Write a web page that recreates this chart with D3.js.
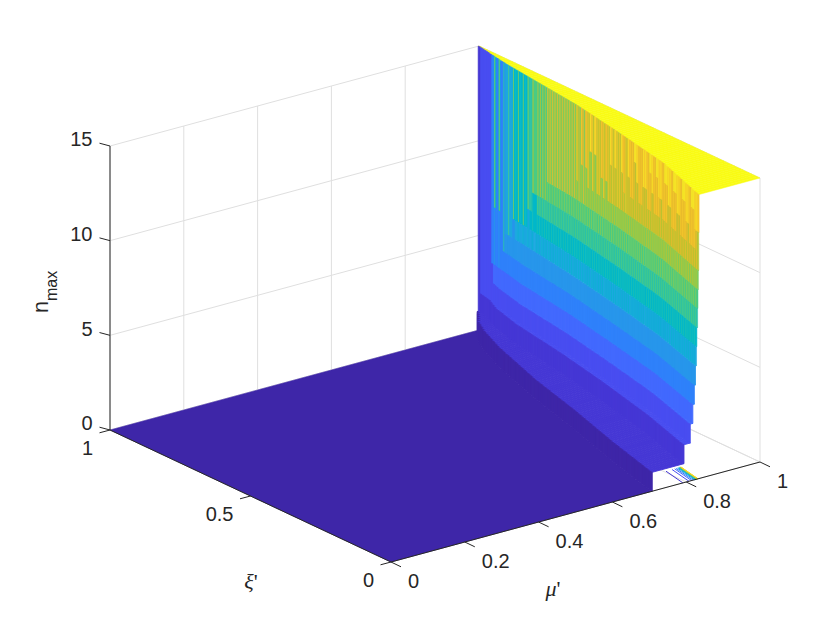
<!DOCTYPE html>
<html>
<head>
<meta charset="utf-8">
<script src="https://cdn.jsdelivr.net/npm/d3@7/dist/d3.min.js"></script>
<style>
html,body{margin:0;padding:0;background:#fff}
text{font-family:"Liberation Sans",Arial,sans-serif;fill:#262626}
</style>
</head>
<body>
<svg id="c" width="840" height="630"></svg>
<script>
// ----- data -----
const muTicks = [0, 0.2, 0.4, 0.6, 0.8, 1];
const muTickLabels = ["0", "0.2", "0.4", "0.6", "0.8", "1"];
const xiTicks = [0, 0.5, 1];
const xiTickLabels = ["0", "0.5", "1"];
const zTicks = [0, 5, 10, 15];
const zTickLabels = ["0", "5", "10", "15"];
const xiKnots = [0, 0.2, 0.4, 0.6, 0.8, 0.9, 0.95, 1];
// mu' at which n_max steps up to level k, at each xi' knot
const step01 = [.705, .750, .800, .845, .900, .935, .958, .995];
const step02 = [.791, .841, .881, .916, .945, .968, .988, .998];
const step03 = [.8075, .858, .895, .929, .955, .976, .990, .998];
const step04 = [.8145, .865, .901, .935, .961, .980, .990, .998];
const step05 = [.8185, .869, .905, .939, .965, .9825, .990, .998];
const step06 = [.822, .872, .909, .942, .970, .9825, .990, .998];
const step07 = [.8245, .875, .912, .945, .9715, .9825, .990, .998];
const step08 = [.826, .877, .914, .947, .9722, .9827, .990, .998];
const step09 = [.8275, .879, .9165, .949, .9725, .9827, .990, .998];
const step10 = [.8285, .881, .9185, .951, .9727, .9827, .990, .998];
const step11 = [.8295, .883, .9205, .9524, .9727, .983, .990, .998];
const step12 = [.8303, .8865, .9215, .9526, .973, .983, .990, .998];
const step13 = [.831, .8872, .9217, .9528, .973, .983, .990, .998];
const step14 = [.8315, .8876, .9219, .953, .973, .983, .990, .998];
const step15 = [.832, .888, .922, .953, .973, .983, .990, .998];
const levelSteps = [step01, step02, step03, step04, step05, step06, step07, step08,
                    step09, step10, step11, step12, step13, step14, step15];
const levelColors = ["#3E26A8", "#4537D5", "#484DF0", "#4269FE", "#2F81FA", "#2796EB", "#1CA9DF", "#01B8CA",
                     "#2CC3A7", "#4ACB84", "#81CC59", "#B9C431", "#E6BB2D", "#F5C72B", "#F5E326", "#F9FB15"];
const gridColumns = 100;
const muGridStep = 0.001;

// ----- oblique projection of the MATLAB box -----
const xFromMu = d3.scaleLinear().domain([0, 1]).range([0, 369]);
const xFromXi = d3.scaleLinear().domain([0, 1]).range([0, -281]);
const yFromMu = d3.scaleLinear().domain([0, 1]).range([0, -100]);
const yFromXi = d3.scaleLinear().domain([0, 1]).range([0, -132]);
const yFromZ = d3.scaleLinear().domain([0, 15]).range([0, -284]);
const P = (mu, xi, z) => [391 + xFromMu(mu) + xFromXi(xi), 562 + yFromMu(mu) + yFromXi(xi) + yFromZ(z)];
const line = d3.line();
const svg = d3.select("#c");

const boundary = levelSteps.map(s => d3.scaleLinear().domain(xiKnots).range(s));
const snap = m => Math.min(1, Math.ceil(m / muGridStep - 1e-9) * muGridStep);

// ----- grid -----
const gridG = svg.append("g").attr("fill", "none").attr("stroke", "#dfdfdf").attr("stroke-width", 1);
const seg = (a, b) => gridG.append("path").attr("d", line([a, b]));
zTicks.forEach(z => { seg(P(0, 1, z), P(1, 1, z)); seg(P(1, 1, z), P(1, 0, z)); });
muTicks.forEach(m => { seg(P(m, 1, 0), P(m, 1, 15)); seg(P(m, 0, 0), P(m, 1, 0)); });
xiTicks.forEach(x => { seg(P(1, x, 0), P(1, x, 15)); seg(P(0, x, 0), P(1, x, 0)); });

// ----- slivers on the floor just behind the front edge -----
const sliverG = svg.append("g").attr("fill", "none").attr("stroke-width", 1);
levelSteps.forEach((s, i) => {
  if (i === 0) return;
  sliverG.append("path").attr("stroke", levelColors[i])
    .attr("d", line([P(s[0], 0, 0), P(s[0], 0.06, 0.2)]));
});

// ----- surface: floor -----
const floorOutline = [P(0, 0, 0)];
d3.range(0, gridColumns).forEach(j => {
  const xa = j / gridColumns, xb = (j + 1) / gridColumns, m = snap(boundary[0](xb));
  floorOutline.push(P(m, xa, 0), P(m, xb, 0));
});
floorOutline.push(P(0, 1, 0));
svg.append("path").attr("d", line(floorOutline) + "Z").attr("fill", levelColors[0]).attr("stroke", levelColors[0]).attr("stroke-width", 0.5);

// ----- surface: one stepped ribbon per xi' column, far to near -----
const quads = [];
for (let j = gridColumns - 1; j >= 0; j--) {
  const xa = j / gridColumns, xb = (j + 1) / gridColumns;
  const xs = xb - 0.36 * (xb - xa);
  const edges = boundary.map(b => snap(b(xb)));
  for (let k = 15; k >= 1; k--) {
    const m = edges[k - 1];
    const mNext = k < 15 ? edges[k] : 1;
    // tread at height k, from this step to the next one
    if (mNext > m) quads.push({ c: k, pts: [P(m, xa, k), P(mNext, xa, k), P(mNext, xb, k), P(m, xb, k)], w: k < 6 ? 0.9 : 0.5, o: 1 });
    // riser up to height k; merged steps take the colour of the lowest level at this grid line
    const isBase = k === 1 || edges[k - 2] !== m;
    if (isBase) {
      let top = k;
      while (top < 15 && edges[top] === m) top++;
      const c = k - 1, jump = top - c;
      quads.push({ c, pts: [P(m, xa, c), P(m, xa, top), P(m, xb, top), P(m, xb, c)], w: c < 6 ? 0.9 : 0.5, o: 1 });
      // the thin brighter sliver each grid column leaves at its far side
      const showSliver = (c >= 6 || jump >= 3) && c >= 3 && (xb <= 0.75 || j % 2 === 0);
      if (showSliver) {
        const lift = 1 + Math.floor(jump / 4);
        quads.push({ c: Math.min(14, c + lift), pts: [P(m, xs, c), P(m, xs, top), P(m, xb, top), P(m, xb, c)], w: 0, o: c < 8 && jump < 3 ? 0.5 : 0.8 });
      }
    }
  }
}
svg.append("g").selectAll("path").data(quads).join("path")
  .attr("d", d => line(d.pts) + "Z")
  .attr("fill", d => levelColors[d.c])
  .attr("fill-opacity", d => d.o)
  .attr("stroke", d => d.w ? levelColors[d.c] : "none")
  .attr("stroke-width", d => d.w);

// ----- axes -----
const axisG = svg.append("g").attr("fill", "none").attr("stroke", "#262626").attr("stroke-width", 1);
const aseg = (a, b) => axisG.append("path").attr("d", line([a, b]));
aseg(P(0, 1, 0), P(0, 1, 15));
aseg(P(0, 1, 0), P(0, 0, 0));
aseg(P(0, 0, 0), P(1, 0, 0));
const label = (x, y, t, anchor) => svg.append("text").attr("x", x).attr("y", y).attr("text-anchor", anchor)
  .attr("dominant-baseline", "middle").attr("font-size", 20).text(t);
muTicks.forEach((m, i) => {
  const p = P(m, 0, 0);
  aseg(p, [p[0] + 10, p[1] + 4.8]);
  label(p[0] + 17, p[1] + 20.5, muTickLabels[i], "start");
});
xiTicks.forEach((x, i) => {
  const p = P(0, x, 0);
  aseg(p, [p[0] - 10.5, p[1] + 2.8]);
  label(p[0] - 17, p[1] + 20, xiTickLabels[i], "end");
});
zTicks.forEach((z, i) => {
  const p = P(0, 1, z);
  aseg(p, [p[0] - 10.5, p[1] - 2.8]);
  label(p[0] - 17.5, p[1] - 5, zTickLabels[i], "end");
});

// ----- titles -----
const nLabel = svg.append("text").attr("transform", "translate(48,313) rotate(-90)").attr("font-size", 21.5);
nLabel.append("tspan").text("n");
nLabel.append("tspan").attr("dy", 9).attr("font-size", 16).text("max");
const xiT = svg.append("text").attr("x", 251).attr("y", 589).attr("text-anchor", "middle").attr("font-size", 22);
xiT.append("tspan").attr("font-family", "Liberation Serif").attr("font-style", "italic").text("ξ");
xiT.append("tspan").attr("font-family", "Liberation Serif").text("'");
const muT = svg.append("text").attr("x", 553).attr("y", 596).attr("text-anchor", "middle").attr("font-size", 22);
muT.append("tspan").attr("font-family", "Liberation Serif").attr("font-style", "italic").text("μ");
muT.append("tspan").attr("font-family", "Liberation Serif").text("'");
</script>
</body>
</html>
